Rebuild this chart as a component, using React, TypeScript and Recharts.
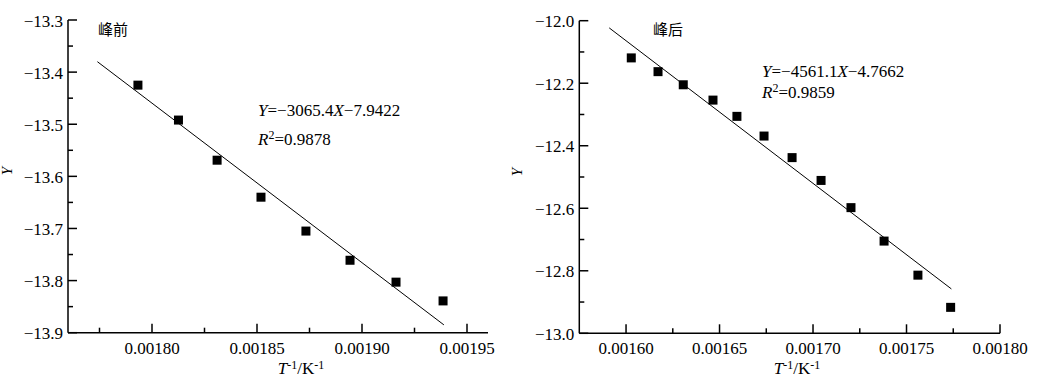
import React from "react";
import { ComposedChart, Scatter, XAxis, YAxis } from "recharts";

// ---- Left panel (峰前) ----
const leftX = [0.0017933, 0.0018126, 0.001831, 0.0018519, 0.0018733, 0.0018943, 0.0019162, 0.0019386];
const leftY = [-13.425, -13.492, -13.569, -13.64, -13.705, -13.761, -13.803, -13.839];
const leftFitX = [0.001774, 0.001939];
const leftFitY = [-13.38, -13.885];
const leftXMajor = [0.0018, 0.00185, 0.0019, 0.00195];
const leftXMinor = [0.001775, 0.001825, 0.001875, 0.001925];
const leftYMajor = [-13.9, -13.8, -13.7, -13.6, -13.5, -13.4, -13.3];
const leftYMinor = [-13.85, -13.75, -13.65, -13.55, -13.45, -13.35];

// ---- Right panel (峰后) ----
const rightX = [0.0016028, 0.0016171, 0.0016306, 0.0016465, 0.0016593, 0.0016738, 0.0016888, 0.0017043, 0.0017203, 0.001738, 0.0017561, 0.0017736];
const rightY = [-12.119, -12.163, -12.205, -12.254, -12.306, -12.369, -12.438, -12.511, -12.598, -12.705, -12.814, -12.917];
const rightFitX = [0.001591, 0.001774];
const rightFitY = [-12.023, -12.858];
const rightXMajor = [0.0016, 0.00165, 0.0017, 0.00175, 0.0018];
const rightXMinor = [0.001625, 0.001675, 0.001725, 0.001775];
const rightYMajor = [-13.0, -12.8, -12.6, -12.4, -12.2, -12.0];
const rightYMinor = [-12.9, -12.7, -12.5, -12.3, -12.1];

const FONT = "Liberation Serif";
const CJK = "Noto Sans CJK SC";

const toPts = (xs: number[], ys: number[]) => xs.map((x, i) => ({ x, y: ys[i] }));
const isIn = (arr: number[], v: number) => arr.some((m) => Math.abs(m - v) < 1e-9);

const XTick = (props: any) => {
  const { x, y, payload, majors, digits } = props;
  const major = isIn(majors, payload.value);
  return (
    <g>
      <line x1={x} x2={x} y1={y} y2={y - (major ? 9 : 5)} stroke="#000" strokeWidth={1.5} />
      {major && (
        <text x={x} y={y + 21} textAnchor="middle" style={{ fontFamily: FONT, fontSize: 17 }} fill="#000">
          {payload.value.toFixed(digits)}
        </text>
      )}
    </g>
  );
};

const YTick = (props: any) => {
  const { x, y, payload, majors } = props;
  const major = isIn(majors, payload.value);
  return (
    <g>
      <line x1={x} x2={x + (major ? 9 : 5)} y1={y} y2={y} stroke="#000" strokeWidth={1.5} />
      {major && (
        <text x={x - 5} y={y + 6.5} textAnchor="end" style={{ fontFamily: FONT, fontSize: 17 }} fill="#000">
          {payload.value.toFixed(1).replace("-", "\u2212")}
        </text>
      )}
    </g>
  );
};

const Square = (props: any) => {
  const { cx, cy } = props;
  if (cx == null || cy == null) return <g />;
  return <rect x={cx - 4.5} y={cy - 4.5} width={9} height={9} fill="#000" />;
};
const NoShape = () => <g />;

type PanelProps = {
  width: number;
  height: number;
  margin: any;
  xDomain: [number, number];
  yDomain: [number, number];
  xMajor: number[];
  xMinor: number[];
  yMajor: number[];
  yMinor: number[];
  pts: { x: number; y: number }[];
  fit: { x: number; y: number }[];
};

const Panel = (p: PanelProps) => (
  <ComposedChart width={p.width} height={p.height} margin={p.margin}>
    <XAxis
      type="number"
      dataKey="x"
      domain={p.xDomain}
      ticks={[...p.xMajor, ...p.xMinor].sort((a, b) => a - b)}
      interval={0}
      height={30}
      tickSize={0}
      tickMargin={0}
      allowDataOverflow
      axisLine={{ stroke: "#000", strokeWidth: 1.5 }}
      tickLine={false}
      tick={(t: any) => <XTick {...t} majors={p.xMajor} digits={5} />}
    />
    <YAxis
      type="number"
      dataKey="y"
      domain={p.yDomain}
      ticks={[...p.yMajor, ...p.yMinor].sort((a, b) => a - b)}
      interval={0}
      width={40}
      tickSize={0}
      tickMargin={0}
      allowDataOverflow
      axisLine={{ stroke: "#000", strokeWidth: 1.5 }}
      tickLine={false}
      tick={(t: any) => <YTick {...t} majors={p.yMajor} />}
    />
    <Scatter
      data={p.fit}
      line={{ stroke: "#000", strokeWidth: 1 }}
      shape={NoShape}
      isAnimationActive={false}
      legendType="none"
    />
    <Scatter data={p.pts} shape={Square} isAnimationActive={false} legendType="none" />
  </ComposedChart>
);

const txt = { fontFamily: FONT, fontSize: 17 };
const sup = { fontSize: 12 };

export default function App() {
  return (
    <div style={{ position: "absolute", left: 0, top: 0, width: 1041, height: 385, background: "#fff", overflow: "hidden", fontFamily: FONT }}>
      <div style={{ position: "absolute", left: 0, top: 0 }}>
        <Panel
          width={500}
          height={385}
          margin={{ left: 28, right: 12, top: 20, bottom: 22.3 }}
          xDomain={[0.00176, 0.00196]}
          yDomain={[-13.9, -13.3]}
          xMajor={leftXMajor}
          xMinor={leftXMinor}
          yMajor={leftYMajor}
          yMinor={leftYMinor}
          pts={toPts(leftX, leftY)}
          fit={toPts(leftFitX, leftFitY)}
        />
      </div>
      <div style={{ position: "absolute", left: 500, top: 0 }}>
        <Panel
          width={541}
          height={385}
          margin={{ left: 39.3, right: 41, top: 20.7, bottom: 21.7 }}
          xDomain={[0.001575, 0.0018]}
          yDomain={[-13.0, -12.0]}
          xMajor={rightXMajor}
          xMinor={rightXMinor}
          yMajor={rightYMajor}
          yMinor={rightYMinor}
          pts={toPts(rightX, rightY)}
          fit={toPts(rightFitX, rightFitY)}
        />
      </div>
      <svg width={1041} height={385} style={{ position: "absolute", left: 0, top: 0, pointerEvents: "none" }}>
        {/* panel titles */}
        <text x={98} y={35} style={{ fontFamily: CJK, fontSize: 15 }} fill="#000">峰前</text>
        <text x={653} y={35} style={{ fontFamily: CJK, fontSize: 15 }} fill="#000">峰后</text>
        {/* equations */}
        <text x={258} y={116} style={txt} fill="#000">
          <tspan fontStyle="italic">Y</tspan>=−3065.4<tspan fontStyle="italic">X</tspan>−7.9422
        </text>
        <text x={258} y={145} style={txt} fill="#000">
          <tspan fontStyle="italic">R</tspan>
          <tspan dy={-6} style={sup}>2</tspan>
          <tspan dy={6}>=0.9878</tspan>
        </text>
        <text x={762} y={77} style={txt} fill="#000">
          <tspan fontStyle="italic">Y</tspan>=−4561.1<tspan fontStyle="italic">X</tspan>−4.7662
        </text>
        <text x={762} y={98} style={txt} fill="#000">
          <tspan fontStyle="italic">R</tspan>
          <tspan dy={-6} style={sup}>2</tspan>
          <tspan dy={6}>=0.9859</tspan>
        </text>
        {/* y axis titles */}
        <text x={0} y={0} transform="translate(12,171) rotate(-90)" textAnchor="middle" style={{ fontFamily: FONT, fontSize: 15, fontStyle: "italic" }} fill="#000">Y</text>
        <text x={0} y={0} transform="translate(522,172) rotate(-90)" textAnchor="middle" style={{ fontFamily: FONT, fontSize: 15, fontStyle: "italic" }} fill="#000">Y</text>
        {/* x axis titles */}
        <text x={301} y={374} textAnchor="middle" style={txt} fill="#000">
          <tspan fontStyle="italic">T</tspan>
          <tspan dy={-5} style={sup}>-1</tspan>
          <tspan dy={5}>/K</tspan>
          <tspan dy={-5} style={sup}>-1</tspan>
        </text>
        <text x={797} y={374} textAnchor="middle" style={txt} fill="#000">
          <tspan fontStyle="italic">T</tspan>
          <tspan dy={-5} style={sup}>-1</tspan>
          <tspan dy={5}>/K</tspan>
          <tspan dy={-5} style={sup}>-1</tspan>
        </text>
      </svg>
    </div>
  );
}
